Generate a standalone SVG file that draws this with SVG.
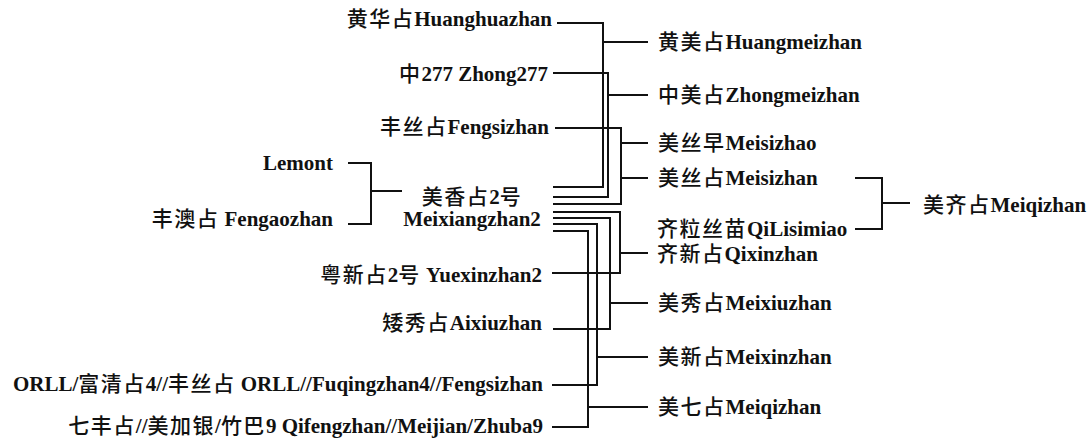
<svg xmlns="http://www.w3.org/2000/svg" width="1089" height="440" viewBox="0 0 1089 440">
<style>
text{font-family:"Liberation Serif","Noto Sans CJK SC",serif;font-size:21px;font-weight:bold;fill:#111}
.r{text-anchor:end}
.m{text-anchor:middle}
.cj{font-weight:500;letter-spacing:1.5px}
#connectors path{fill:none;stroke:#111;stroke-width:2}
</style>
<rect width="1089" height="440" fill="#fff"/>
<g id="connectors">
<path d="M557,23 H603 V187 H553 M603,42 H648"/>
<path d="M553,73 H608 V197 H553 M608,95 H648"/>
<path d="M555,128 H621 V204 H553 M621,143 H648 M621,178 H648"/>
<path d="M553,212 H620 V273 H552 M620,253 H648"/>
<path d="M553,218 H610 V329 H553 M610,303 H648"/>
<path d="M553,224 H597 V385 H552 M597,357 H648"/>
<path d="M553,231 H588 V427 H552 M588,407 H648"/>
<path d="M348,163 H371 V224 H348 M371,191 H402"/>
<path d="M855,178 H882 V229 H855 M882,203 H910"/>
</g>
<g id="n-huanghuazhan"><text class="r" x="552" y="26"><tspan class="cj">黄华占</tspan>Huanghuazhan</text></g>
<g id="n-zhong277"><text class="r" x="548" y="81"><tspan class="cj">中</tspan>277 Zhong277</text></g>
<g id="n-fengsizhan"><text class="r" x="549" y="134"><tspan class="cj">丰丝占</tspan>Fengsizhan</text></g>
<g id="n-lemont"><text class="r" x="333" y="170">Lemont</text></g>
<g id="n-fengaozhan"><text class="r" x="333" y="226"><tspan class="cj">丰澳占</tspan> Fengaozhan</text></g>
<g id="n-meixiangzhan2"><text class="m" x="472" y="204"><tspan class="cj">美香占</tspan>2<tspan class="cj">号</tspan></text><text class="m" x="472" y="226">Meixiangzhan2</text></g>
<g id="n-yuexinzhan2"><text class="r" x="542" y="282"><tspan class="cj">粤新占</tspan>2<tspan class="cj">号</tspan> Yuexinzhan2</text></g>
<g id="n-aixiuzhan"><text class="r" x="542" y="330"><tspan class="cj">矮秀占</tspan>Aixiuzhan</text></g>
<g id="n-orll"><text class="r" x="543" y="391">ORLL/<tspan class="cj">富清占</tspan>4//<tspan class="cj">丰丝占</tspan> ORLL//Fuqingzhan4//Fengsizhan</text></g>
<g id="n-qifengzhan"><text class="r" x="543" y="433"><tspan class="cj">七丰占</tspan>//<tspan class="cj">美加银</tspan>/<tspan class="cj">竹巴</tspan>9 Qifengzhan//Meijian/Zhuba9</text></g>
<g id="n-huangmeizhan"><text x="658" y="49"><tspan class="cj">黄美占</tspan>Huangmeizhan</text></g>
<g id="n-zhongmeizhan"><text x="658" y="102"><tspan class="cj">中美占</tspan>Zhongmeizhan</text></g>
<g id="n-meisizhao"><text x="658" y="150"><tspan class="cj">美丝早</tspan>Meisizhao</text></g>
<g id="n-meisizhan"><text x="658" y="185"><tspan class="cj">美丝占</tspan>Meisizhan</text></g>
<g id="n-qilisimiao"><text x="657" y="236"><tspan class="cj">齐粒丝苗</tspan>QiLisimiao</text></g>
<g id="n-qixinzhan"><text x="657" y="261"><tspan class="cj">齐新占</tspan>Qixinzhan</text></g>
<g id="n-meixiuzhan"><text x="658" y="310"><tspan class="cj">美秀占</tspan>Meixiuzhan</text></g>
<g id="n-meixinzhan"><text x="658" y="364"><tspan class="cj">美新占</tspan>Meixinzhan</text></g>
<g id="n-meiqizhan7"><text x="658" y="414"><tspan class="cj">美七占</tspan>Meiqizhan</text></g>
<g id="n-meiqizhan"><text x="923" y="212"><tspan class="cj">美齐占</tspan>Meiqizhan</text></g>
</svg>
